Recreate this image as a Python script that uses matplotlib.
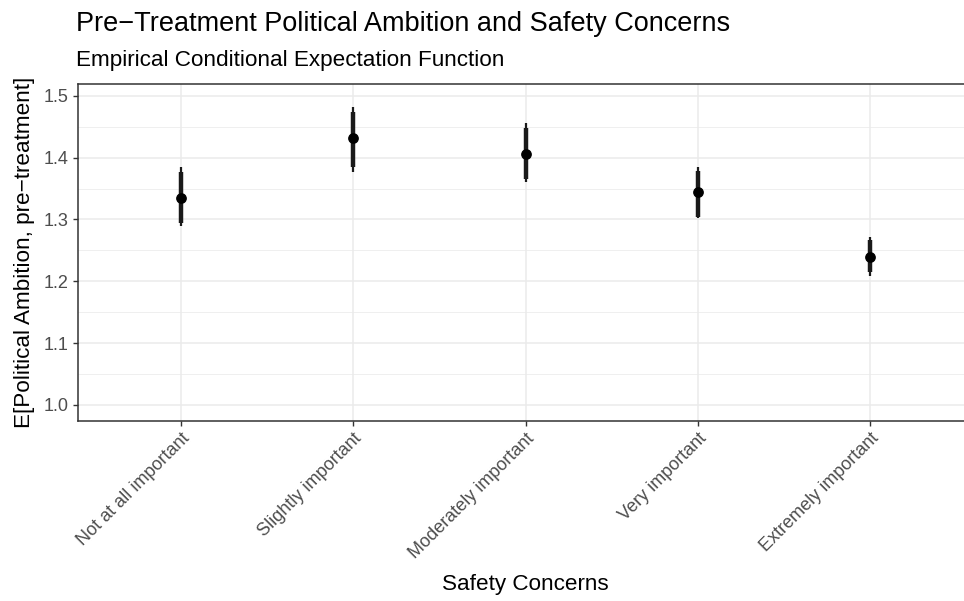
import numpy as np
import matplotlib.pyplot as plt

plt.rcParams['font.family'] = ['Liberation Sans', 'DejaVu Sans']

# Data
categories = ['Not at all important', 'Slightly important', 'Moderately important',
              'Very important', 'Extremely important']
means = [1.335, 1.431, 1.406, 1.344, 1.240]
outer_lo = [1.289, 1.376, 1.360, 1.302, 1.208]
outer_hi = [1.384, 1.482, 1.456, 1.385, 1.272]
inner_lo = [1.295, 1.385, 1.366, 1.304, 1.215]
inner_hi = [1.376, 1.473, 1.448, 1.378, 1.266]
yticks = [1.0, 1.1, 1.2, 1.3, 1.4, 1.5]

x = np.arange(1, len(categories) + 1)

fig = plt.figure(figsize=(9.64, 6.01), dpi=100)
ax = fig.add_axes([77.5 / 964, 1 - 421 / 601, 896 / 964, 337 / 601])

# grid
for y in yticks:
    ax.axhline(y, color='#ebebeb', lw=1.1, zorder=0)
for y in np.arange(0.95, 1.56, 0.1):
    ax.axhline(y, color='#ebebeb', lw=0.55, zorder=0)
for xi in x:
    ax.axvline(xi, color='#ebebeb', lw=1.1, zorder=0)

ax.vlines(x, outer_lo, outer_hi, color='#1a1a1a', lw=1.6, zorder=2)
ax.vlines(x, inner_lo, inner_hi, color='#1a1a1a', lw=3.2, zorder=3)
ax.scatter(x, means, s=45, color='black', zorder=4)

ax.set_xlim(0.4, 5.6)
ax.set_ylim(0.974, 1.519)
ax.set_yticks(yticks)
ax.set_yticklabels([f'{v:.1f}' for v in yticks])
ax.set_xticks(x)
ax.set_xticklabels(categories, rotation=45, ha='right', va='top', rotation_mode='anchor')
ax.tick_params(colors='#333333', labelcolor='#4d4d4d', labelsize=13, length=3.5, width=1, pad=3)
for s in ax.spines.values():
    s.set_color('#333333')
    s.set_linewidth(1.1)

ax.set_xlabel('Safety Concerns', fontsize=16.2, labelpad=9)
ax.set_ylabel('E[Political Ambition, pre\u2212treatment]', fontsize=16.2, labelpad=6)

fig.text(76 / 964, 1 - 31 / 601, 'Pre\u2212Treatment Political Ambition and Safety Concerns',
         fontsize=19.5, ha='left', va='baseline')
fig.text(76 / 964, 1 - 66 / 601, 'Empirical Conditional Expectation Function',
         fontsize=16.2, ha='left', va='baseline')

fig.savefig('out.png', dpi=100)
